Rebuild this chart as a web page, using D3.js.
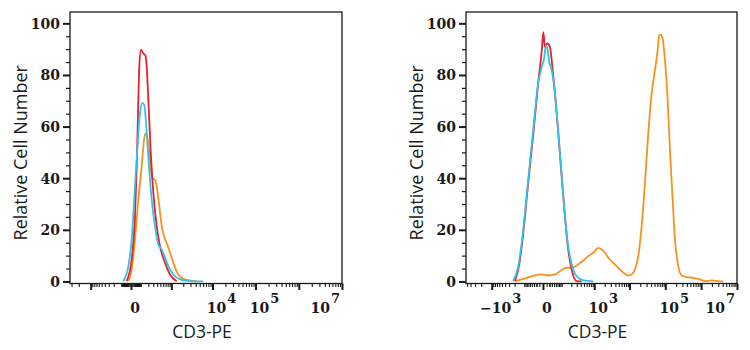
<!DOCTYPE html>
<html>
<head>
<meta charset="utf-8">
<script src="https://cdn.jsdelivr.net/npm/d3@7"></script>
<style>
  body { margin: 0; background: #fff; }
  svg { display: block; }
</style>
</head>
<body>
<svg id="chart" width="750" height="350"></svg>
<script>
// ---- data: CD3-PE histograms (fluorescence value, % of peak) ----
const leftRed = [[-34,0.1],[5,8.5],[31,25.2],[47,44.5],[63,70.3],[73,83.1],[93,89.8],[122,88.3],[151,87.6],[173,83.1],[200,70.3],[245,50.2],[301,34.4],[387,21.3],[486,13.6],[675,7.3],[921,2.7],[1373,0.1]];
const leftCyan = [[-67,0.1],[-20,5.9],[5,16.2],[31,36.8],[63,57.4],[81,65.3],[109,69.2],[136,68.3],[173,57.5],[212,44.5],[265,31.7],[342,21.4],[433,14.3],[545,12.4],[675,9.3],[830,5.9],[1124,2.7],[1662,0.8],[2924,0.1],[6071,0]];
const leftOrange = [[-20,0.1],[5,4.6],[31,16.2],[63,31.7],[101,44.5],[132,54.8],[157,57.4],[189,54.8],[231,47.1],[278,40.0],[342,39.4],[387,36.8],[464,29.1],[545,21.4],[633,17.5],[751,14.9],[921,11.1],[1124,7.2],[1507,2.7],[2006,1.0],[2924,0.4],[4233,0]];

const rightRed = [[-195,0.1],[-142,5.9],[-98,18.8],[-61,38.1],[-33,57.4],[-14,76.7],[-3,89.6],[1,96.6],[5,90.8],[12,92.2],[22,90.8],[32,83.1],[45,72.9],[65,57.4],[90,40.7],[120,25.2],[157,12.4],[205,4.6],[298,0.1],[425,0]];
const rightCyan = [[-222,0.1],[-150,5.9],[-98,20.1],[-61,39.4],[-33,59.1],[-14,76.7],[-3,83.1],[3,86.4],[8,91.5],[14,89.6],[18,85.7],[29,81.9],[45,72.9],[65,57.4],[90,40.7],[120,25.2],[157,13.6],[215,5.9],[298,2.0],[476,0.4],[938,0]];
const rightOrange = [[-195,0],[-113,0.8],[-41,2.0],[-3,2.7],[16,2.3],[45,2.7],[90,4.4],[138,5.3],[205,5.3],[334,6.6],[476,8.1],[670,9.8],[938,11.1],[1309,13.0],[1638,12.4],[2034,11.1],[2523,9.2],[3492,7.2],[4829,5.3],[6670,3.4],[9218,2.3],[11476,2.7],[14197,4.6],[17556,9.8],[21840,21.4],[27020,38.1],[33400,57.4],[41570,72.9],[51410,81.9],[61150,89.6],[67780,95.4],[74150,95.6],[82220,94.7],[97740,85.7],[116260,70.3],[134750,51.0],[160340,31.7],[185900,16.2],[229830,5.9],[285850,2.3],[393950,1.7],[601740,1.4],[926000,0.8],[1276500,0.1],[1962400,0.4],[2999000,0.1],[4138000,0]];

// ---- axis labels ----
const yTickValues = [0, 20, 40, 60, 80, 100];
const leftXLabels = [
  { v: 0, base: "0" },
  { v: 1e4, base: "10", exp: "4" },
  { v: 1e5, base: "10", exp: "5" },
  { v: 1e7, base: "10", exp: "7" }
];
const rightXLabels = [
  { v: -1e3, base: "\u221210", exp: "3" },
  { v: 0, base: "0" },
  { v: 1e3, base: "10", exp: "3" },
  { v: 1e5, base: "10", exp: "5" },
  { v: 1e7, base: "10", exp: "7" }
];
const xTitle = "CD3-PE";
const yTitle = "Relative Cell Number";

const colors = { red: "#e8212a", cyan: "#2ec3ea", orange: "#f7921f" };

const svg = d3.select("#chart");
const plotTop = 12, plotBottom = 283.5;
const y = d3.scaleLinear().domain([-0.8, 104.4]).range([plotBottom, plotTop]);

const panels = [
  {
    x: d3.scaleSymlog().constant(132).domain([-3268, 1e7]).range([70, 342]),
    series: [[leftOrange, colors.orange], [leftRed, colors.red], [leftCyan, colors.cyan]],
    labels: leftXLabels
  },
  {
    x: d3.scaleSymlog().constant(38.6).domain([-5378, 1e7]).range([466, 737]),
    series: [[rightOrange, colors.orange], [rightRed, colors.red], [rightCyan, colors.cyan]],
    labels: rightXLabels
  }
];

// decade ticks for a biexponential-style axis
function decadeTicks(scale) {
  const [lo, hi] = scale.domain();
  const inDomain = v => v >= lo && v <= hi;
  const major = [0], minor = [10, -10, 20, -20, 30, -30];
  for (let k = 2; k <= 7; k++) {
    const p = Math.pow(10, k);
    if (k >= 3) [p, -p].forEach(v => { if (inDomain(v)) major.push(v); });
    for (let m = 2; m <= 9; m++) {
      [m * p / 10, -m * p / 10].forEach(v => { if (inDomain(v)) minor.push(v); });
    }
  }
  return { major, minor: minor.filter(inDomain) };
}

const numFont = s => s.style("font-family", "DejaVu Serif").style("font-weight", "bold").attr("fill", "#1a1a1a");
const titleFont = s => s.style("font-family", "Open Sans").attr("fill", "#1a1a1a");

panels.forEach(p => {
  const [x0, x1] = p.x.range();
  const g = svg.append("g");

  // curves
  const line = d3.line()
    .x(d => p.x(d[0]))
    .y(d => y(d[1]))
    .curve(d3.curveMonotoneX);
  p.series.forEach(([data, col]) => {
    g.append("path").datum(data)
      .attr("d", line)
      .attr("fill", "none")
      .attr("stroke", col)
      .attr("stroke-width", 1.8)
      .attr("stroke-linejoin", "round");
  });

  // frame
  g.append("rect")
    .attr("x", x0).attr("y", plotTop)
    .attr("width", x1 - x0).attr("height", plotBottom - plotTop)
    .attr("fill", "none").attr("stroke", "#1a1a1a").attr("stroke-width", 1.3);

  // y axis
  const yMinor = d3.range(0, 101, 5).filter(v => v % 20 !== 0);
  g.append("g").attr("transform", `translate(${x0},0)`)
    .call(d3.axisLeft(y).tickValues(yMinor).tickSize(4).tickFormat(""))
    .call(a => a.select(".domain").remove())
    .selectAll("line").attr("stroke", "#1a1a1a").attr("stroke-width", 1.2);
  g.append("g").attr("transform", `translate(${x0},0)`)
    .call(d3.axisLeft(y).tickValues(yTickValues).tickSize(7).tickFormat(""))
    .call(a => a.select(".domain").remove())
    .selectAll("line").attr("stroke", "#1a1a1a").attr("stroke-width", 2);
  g.selectAll(".ylab").data(yTickValues).enter().append("text")
    .attr("x", x0 - 10).attr("y", d => y(d) + 5.5)
    .attr("text-anchor", "end")
    .style("font-size", "14px")
    .call(numFont)
    .text(d => d);

  // x axis
  const t = decadeTicks(p.x);
  g.append("g").attr("transform", `translate(0,${plotBottom})`)
    .call(d3.axisBottom(p.x).tickValues(t.minor).tickSize(3.5).tickFormat(""))
    .call(a => a.select(".domain").remove())
    .selectAll("line").attr("stroke", "#1a1a1a").attr("stroke-width", 1.1);
  g.append("g").attr("transform", `translate(0,${plotBottom})`)
    .call(d3.axisBottom(p.x).tickValues(t.major).tickSize(6.5).tickFormat(""))
    .call(a => a.select(".domain").remove())
    .selectAll("line").attr("stroke", "#1a1a1a").attr("stroke-width", 2);

  p.labels.forEach(l => {
    const base = g.append("text")
      .attr("y", plotBottom + 29)
      .attr("text-anchor", "start")
      .style("font-size", "14px")
      .call(numFont).text(l.base);
    const w = base.node().getComputedTextLength();
    let exp = null, ew = 0;
    if (l.exp) {
      exp = g.append("text")
        .attr("y", plotBottom + 19.5)
        .style("font-size", "13px")
        .call(numFont).text(l.exp);
      ew = exp.node().getComputedTextLength() + 1;
    }
    // base centred just right of its tick, whole label kept inside the frame
    let left = p.x(l.v) + 4 - w / 2;
    left = Math.min(left, x1 - 2 - w - ew);
    base.attr("x", left);
    if (exp) exp.attr("x", left + w + 1);
  });

  // titles
  g.append("text")
    .attr("x", (x0 + x1) / 2 - 4).attr("y", plotBottom + 54)
    .attr("text-anchor", "middle")
    .style("font-size", "17.5px")
    .call(titleFont).text(xTitle);
  g.append("text")
    .attr("transform", `translate(${x0 - 43},${(plotTop + plotBottom) / 2 + 5}) rotate(-90)`)
    .attr("text-anchor", "middle")
    .style("font-size", "18px")
    .call(titleFont).text(yTitle);
});
</script>
</body>
</html>
